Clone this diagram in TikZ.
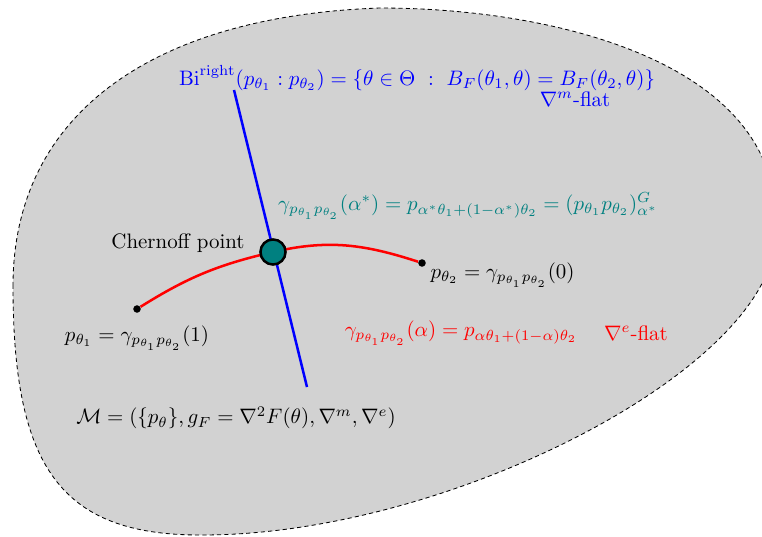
\documentclass[tikz,border=0pt]{standalone}
\usepackage{amsmath}
\usepackage{amssymb}
\usetikzlibrary{positioning}

\begin{document}
\begin{tikzpicture}[x=0.0168cm,y=0.0168cm,
    blackdot/.style={circle,fill=black,inner sep=0pt,minimum size=3.6pt},
    geoline/.style={line width=1.2pt},
    lbl/.style={inner sep=1pt}]
  \useasboundingbox (0,0) rectangle (762,536);
  % manifold
  \draw[fill=gray!35,draw=black,dash pattern=on 2pt off 1.5pt,line width=0.4pt]
    (13,250) .. controls (13,420) and (150,520) .. (380,528)
             .. controls (560,528) and (790,470) .. (775,300)
             .. controls (775,170) and (450,0) .. (200,1)
             .. controls (60,1) and (13,70) .. cycle;
  % bisector and geodesic
  \coordinate (bitop) at (234,446);
  \coordinate (bibot) at (307,149);
  \node[blackdot] (p1) at (137,227) {};
  \node[blackdot] (p2) at (422,273) {};
  \coordinate (cp) at (273,284);
  \draw[geoline,blue] (bitop) -- (bibot);
  \draw[geoline,red] (p1) to[out=32,in=193] (cp) to[out=13,in=162] (p2);
  \node[circle,draw=black,line width=1.2pt,fill=teal,minimum size=12pt,inner sep=0pt]
    (chernoff) at (cp) {};
  % labels
  \node[lbl,text=blue] (bilabel) at (417,458)
    {$\mathrm{Bi}^{\mathrm{right}}(p_{\theta_1}:p_{\theta_2})=\{\theta\in\Theta\ :\ B_F(\theta_1,\theta)=B_F(\theta_2,\theta)\}$};
  \node[lbl,text=blue] (mflat) at (575,437) {$\nabla^m$-flat};
  \node[lbl,text=teal] (cplabel) at (468,330)
    {$\gamma_{p_{\theta_1}p_{\theta_2}}(\alpha^*)=p_{\alpha^*\theta_1+(1-\alpha^*)\theta_2}=(p_{\theta_1}p_{\theta_2})^G_{\alpha^*}$};
  \node[lbl] (cpname) at (178,293) {Chernoff point};
  \node[lbl,anchor=west] (p2label) at (428,261) {$p_{\theta_2}=\gamma_{p_{\theta_1}p_{\theta_2}}(0)$};
  \node[lbl] (p1label) at (137,198) {$p_{\theta_1}=\gamma_{p_{\theta_1}p_{\theta_2}}(1)$};
  \node[lbl,text=red] (geolabel) at (461,203)
    {$\gamma_{p_{\theta_1}p_{\theta_2}}(\alpha)=p_{\alpha\theta_1+(1-\alpha)\theta_2}$};
  \node[lbl,text=red] (eflat) at (636,203) {$\nabla^e$-flat};
  \node[lbl] (manifold) at (236,118)
    {$\mathcal{M}=(\{p_\theta\},g_F=\nabla^2F(\theta),\nabla^m,\nabla^e)$};
\end{tikzpicture}
\end{document}
